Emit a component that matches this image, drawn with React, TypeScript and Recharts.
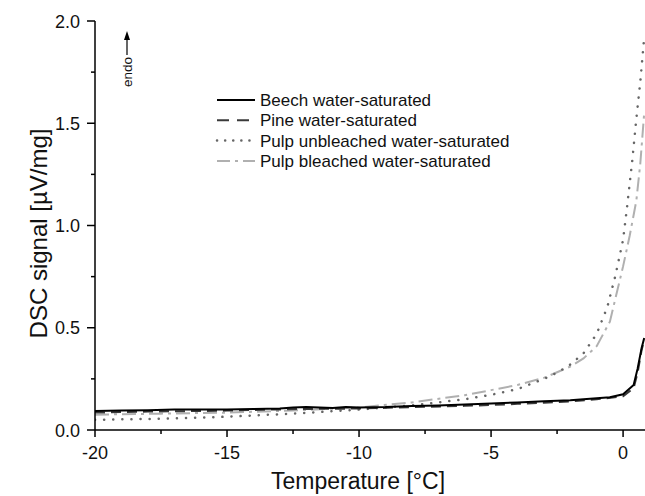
import React from 'react';
import { LineChart, Line, XAxis, YAxis, Label } from 'recharts';

const seriesNames = [
  'Beech water-saturated',
  'Pine water-saturated',
  'Pulp unbleached water-saturated',
  'Pulp bleached water-saturated',
];

const beechT = [-20, -19, -18, -17, -16, -15, -14, -13, -12.5, -12, -11, -10.5, -10, -9, -8, -7, -6, -5, -4, -3, -2, -1, -0.5, 0, 0.4, 0.55, 0.7, 0.8];
const beechS = [0.093, 0.095, 0.097, 0.1, 0.1, 0.1, 0.103, 0.105, 0.11, 0.112, 0.108, 0.112, 0.11, 0.112, 0.117, 0.12, 0.125, 0.13, 0.135, 0.14, 0.145, 0.155, 0.16, 0.175, 0.22, 0.3, 0.4, 0.45];

const pineT = [-20, -18, -16, -15, -14, -12, -10, -8, -6, -5, -4, -3, -2, -1, 0, 0.4, 0.55, 0.7, 0.8];
const pineS = [0.085, 0.09, 0.093, 0.095, 0.098, 0.103, 0.105, 0.112, 0.118, 0.122, 0.128, 0.133, 0.14, 0.15, 0.165, 0.205, 0.28, 0.39, 0.44];

const unbleachedT = [-20, -17.5, -15, -12.5, -10, -8, -6, -5, -4, -3, -2.5, -2, -1.5, -1, -0.6, -0.3, 0, 0.15, 0.35, 0.5, 0.65, 0.8];
const unbleachedS = [0.05, 0.055, 0.065, 0.08, 0.1, 0.12, 0.15, 0.172, 0.2, 0.25, 0.28, 0.32, 0.375, 0.47, 0.6, 0.75, 0.93, 1.09, 1.32, 1.52, 1.7, 1.92];

const bleachedT = [-20, -17.5, -15, -12.5, -10, -8, -6, -5, -4, -3, -2, -1.5, -1, -0.5, 0, 0.25, 0.5, 0.65, 0.8];
const bleachedS = [0.075, 0.08, 0.085, 0.095, 0.11, 0.135, 0.17, 0.195, 0.22, 0.255, 0.31, 0.35, 0.41, 0.53, 0.8, 0.95, 1.12, 1.3, 1.55];

const xMajorTicks = [-20, -15, -10, -5, 0];
const xMinorTicks = [-17.5, -12.5, -7.5, -2.5];
const yMajorTicks = [0, 0.5, 1, 1.5, 2];
const yMinorTicks = [0.25, 0.75, 1.25, 1.75];

const zip = (t: number[], s: number[]) => t.map((v, i) => ({ t: v, s: s[i] }));

const seriesStyles = [
  { stroke: '#000000', strokeWidth: 2, dash: undefined as string | undefined, cap: 'butt' },
  { stroke: '#3a3a3a', strokeWidth: 2, dash: '10 6', cap: 'butt' },
  { stroke: '#666666', strokeWidth: 2.5, dash: '0.1 9', cap: 'round' },
  { stroke: '#b0b0b0', strokeWidth: 2, dash: '14 5 3 5', cap: 'butt' },
];

const seriesData = [
  zip(beechT, beechS),
  zip(pineT, pineS),
  zip(unbleachedT, unbleachedS),
  zip(bleachedT, bleachedS),
];

const FONT = '"Liberation Sans", Arial, Helvetica, sans-serif';

const XTick = (props: any) => {
  const { x, y, payload } = props;
  const v = payload.value;
  const major = xMajorTicks.includes(v);
  return (
    <g>
      <line x1={x} x2={x} y1={y} y2={y + (major ? 7 : 4)} stroke="#000" strokeWidth={1.5} />
      {major && (
        <text x={x} y={y + 29} textAnchor="middle" fontSize={18} fontFamily={FONT} fill="#111">
          {String(v)}
        </text>
      )}
    </g>
  );
};

const YTick = (props: any) => {
  const { x, y, payload } = props;
  const v = payload.value;
  const major = yMajorTicks.includes(v);
  return (
    <g>
      <line x1={x - (major ? 8 : 4)} x2={x} y1={y} y2={y} stroke="#000" strokeWidth={1.5} />
      {major && (
        <text x={x - 15} y={y + 6.5} textAnchor="end" fontSize={18} fontFamily={FONT} fill="#111">
          {v.toFixed(1)}
        </text>
      )}
    </g>
  );
};

export default function App() {
  return (
    <div style={{ position: 'absolute', width: 645, height: 496, left: 0, top: 0, background: '#fff', overflow: 'hidden' }}>
      <LineChart width={645} height={496} margin={{ top: 21, right: 0, bottom: 0, left: 0 }}>
        <XAxis
          type="number"
          dataKey="t"
          domain={[-20, 0.83]}
          allowDataOverflow
          ticks={[...xMajorTicks, ...xMinorTicks].sort((a, b) => a - b)}
          interval={0}
          tickLine={false}
          tickSize={0}
          tickMargin={0}
          tick={<XTick />}
          axisLine={{ stroke: '#000', strokeWidth: 1.5 }}
          height={66}
        >
          <Label
            value="Temperature [°C]"
            position="insideBottom"
            offset={7}
            dx={-12}
            style={{ fontSize: 23, fontFamily: FONT, fill: '#111' }}
          />
        </XAxis>
        <YAxis
          type="number"
          domain={[0, 2]}
          allowDataOverflow
          ticks={[...yMajorTicks, ...yMinorTicks].sort((a, b) => a - b)}
          interval={0}
          tickLine={false}
          tickSize={0}
          tickMargin={0}
          tick={<YTick />}
          axisLine={{ stroke: '#000', strokeWidth: 1.5 }}
          width={95}
        >
          <Label
            value="DSC signal [µV/mg]"
            angle={-90}
            position="insideLeft"
            offset={38}
            dy={8}
            style={{ fontSize: 24, fontFamily: FONT, fill: '#111', textAnchor: 'middle' }}
          />
        </YAxis>
        {seriesData.map((d, i) => (
          <Line
            key={seriesNames[i]}
            data={d}
            dataKey="s"
            name={seriesNames[i]}
            type="linear"
            dot={false}
            activeDot={false}
            stroke={seriesStyles[i].stroke}
            strokeWidth={seriesStyles[i].strokeWidth}
            strokeDasharray={seriesStyles[i].dash}
            strokeLinecap={seriesStyles[i].cap as any}
            isAnimationActive={false}
          />
        )).reverse()}
      </LineChart>
      <svg width={645} height={496} style={{ position: 'absolute', left: 0, top: 0, pointerEvents: 'none' }}>
        <line x1={127} x2={127} y1={55} y2={38} stroke="#000" strokeWidth={1.2} />
        <polygon points="127,31 124,40 130,40" fill="#000" />
        <text
          x={127}
          y={72}
          transform="rotate(-90 127 72)"
          textAnchor="middle"
          dominantBaseline="central"
          fontSize={13.5}
          fontFamily={FONT}
          fill="#111"
        >
          endo
        </text>
        {seriesNames.map((name, i) => {
          const y = 100 + i * 20.3;
          return (
            <g key={name}>
              <line
                x1={217}
                x2={255}
                y1={y}
                y2={y}
                stroke={seriesStyles[i].stroke}
                strokeWidth={seriesStyles[i].strokeWidth}
                strokeDasharray={i === 1 ? '12 8' : i === 2 ? '0.1 8' : i === 3 ? '13 5 3 5' : undefined}
                strokeLinecap={seriesStyles[i].cap as any}
              />
              <text x={260} y={y + 6} fontSize={17} fontFamily={FONT} fill="#111">
                {name}
              </text>
            </g>
          );
        })}
      </svg>
    </div>
  );
}
